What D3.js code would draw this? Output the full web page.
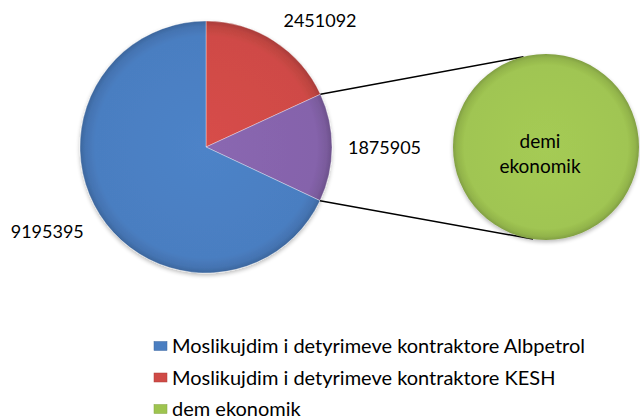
<!DOCTYPE html>
<html>
<head>
<meta charset="utf-8">
<script src="https://cdn.jsdelivr.net/npm/d3@7"></script>
<style>
  html, body { margin: 0; padding: 0; background: #fff; }
  svg { display: block; font-family: Lato, "Open Sans", sans-serif; }
</style>
</head>
<body>
<svg id="chart" width="640" height="419"></svg>
<script>
// ---- data ----
const categories = [
  "Moslikujdim i detyrimeve kontraktore Albpetrol",
  "Moslikujdim i detyrimeve kontraktore KESH",
  "dem ekonomik"
];
const values = [9195395, 2451092, 1875905];
const sliceOrder = [1, 2, 0];              // clockwise from 12 o'clock
const secondaryCategories = ["demi ekonomik"];
const secondaryValues = [1875905];
const secondaryLabelLines = ["demi", "ekonomik"];

// ---- styles ----
const mainColors = ["#4a7ec1", "#cf4a46", "#8563ab"];
const legendColors = ["#4a7ec1", "#cf4a46", "#9ec44f"];
const secondaryColor = "#a0c552";

const svg = d3.select("#chart");
const defs = svg.append("defs");

const filter = defs.append("filter").attr("id", "shadow")
  .attr("x", "-10%").attr("y", "-10%").attr("width", "120%").attr("height", "120%");
filter.append("feGaussianBlur").attr("in", "SourceAlpha").attr("stdDeviation", 2.2).attr("result", "b");
filter.append("feOffset").attr("in", "b").attr("dx", 0).attr("dy", 1.5).attr("result", "o");
filter.append("feComponentTransfer").attr("in", "o").attr("result", "s")
  .append("feFuncA").attr("type", "linear").attr("slope", 0.28);
const fm = filter.append("feMerge");
fm.append("feMergeNode").attr("in", "s");
fm.append("feMergeNode").attr("in", "SourceGraphic");

function addGrad(id, color, radius, bright) {
  const col = d3.color(color);
  const g = defs.append("radialGradient").attr("id", id)
    .attr("gradientUnits", "userSpaceOnUse").attr("cx", 0).attr("cy", 0).attr("r", radius);
  g.append("stop").attr("offset", "0%").attr("stop-color", col.brighter(bright));
  g.append("stop").attr("offset", "88%").attr("stop-color", col);
  g.append("stop").attr("offset", "96%").attr("stop-color", col.darker(0.25));
  g.append("stop").attr("offset", "100%").attr("stop-color", col.darker(0.6));
  return "url(#" + id + ")";
}

// ---- main pie ----
const cx = 206, cy = 147, r = 126;
const pie = d3.pie().sort(null).value(i => values[i]).startAngle(0).endAngle(2 * Math.PI);
const arcs = pie(sliceOrder);
const arc = d3.arc().innerRadius(0).outerRadius(r);

mainColors.forEach((c, i) => addGrad("mg" + i, c, r, 0.1));
const gMain = svg.append("g").attr("transform", `translate(${cx},${cy})`).attr("filter", "url(#shadow)");
gMain.selectAll("path.slice").data(arcs).join("path")
  .attr("class", "slice")
  .attr("d", arc)
  .attr("fill", d => `url(#mg${d.data})`)
  .attr("stroke", "rgba(255,255,255,0.35)")
  .attr("stroke-width", 1);

// data labels (outside end)
const labelR = r + 14;
arcs.forEach(d => {
  const a = (d.startAngle + d.endAngle) / 2;
  const s = Math.sin(a), c = Math.cos(a);
  const px = cx + labelR * s, py = cy - labelR * c;
  const anchor = s > 0.05 ? "start" : (s < -0.05 ? "end" : "middle");
  const x = px + (anchor === "start" ? 2 : anchor === "end" ? -4 : 0);
  let y, dy;
  if (c > 0.3) { y = py - 2; dy = "0"; }
  else if (c < -0.3) { y = py + 3; dy = "0.72em"; }
  else { y = py; dy = "0.35em"; }
  svg.append("text")
    .attr("x", x).attr("y", y).attr("dy", dy)
    .attr("text-anchor", anchor)
    .attr("font-size", 18).attr("fill", "#000")
    .text(d3.format("d")(values[d.data]));
});

// ---- secondary pie ----
const cx2 = 546, cy2 = 147, r2 = 93;
const pie2 = d3.pie().sort(null).value(v => v);
const arcs2 = pie2(secondaryValues);
const arc2 = d3.arc().innerRadius(0).outerRadius(r2);

// connector lines from the edges of the "dem ekonomik" slice to the secondary pie
const other = arcs.find(d => d.data === 2);
const pt = (x0, y0, rad, a) => [x0 + rad * Math.sin(a), y0 - rad * Math.cos(a)];
const deg = Math.PI / 180;
const connectors = [
  [pt(cx, cy, r, other.startAngle), pt(cx2, cy2, r2, -14 * deg)],
  [pt(cx, cy, r, other.endAngle), pt(cx2, cy2, r2, 188 * deg)]
];
svg.selectAll("line.conn").data(connectors).join("line")
  .attr("class", "conn")
  .attr("x1", d => d[0][0]).attr("y1", d => d[0][1])
  .attr("x2", d => d[1][0]).attr("y2", d => d[1][1])
  .attr("stroke", "#000").attr("stroke-width", 1.5);

addGrad("sg", secondaryColor, r2, 0.08);
const gSec = svg.append("g").attr("transform", `translate(${cx2},${cy2})`).attr("filter", "url(#shadow)");
gSec.selectAll("path").data(arcs2).join("path")
  .attr("d", arc2)
  .attr("fill", "url(#sg)");

const t2 = svg.append("text")
  .attr("x", cx2 - 6).attr("y", cy2 + 1)
  .attr("text-anchor", "middle")
  .attr("font-size", 19).attr("fill", "#000");
secondaryLabelLines.forEach((ln, i) => {
  t2.append("tspan").attr("x", cx2 - 6).attr("dy", i === 0 ? "0" : "1.32em").text(ln);
});

// ---- legend ----
const legendItems = categories.map((c, i) => ({ name: c, color: legendColors[i] }));
const ly = d3.scalePoint().domain(d3.range(legendItems.length)).range([346, 409]);
const lg = svg.append("g");
const items = lg.selectAll("g").data(legendItems).join("g")
  .attr("transform", (d, i) => `translate(154,${ly(i)})`);
items.append("rect")
  .attr("x", 0).attr("y", -4.5).attr("width", 13).attr("height", 9)
  .attr("fill", d => d.color)
  .attr("stroke", d => d3.color(d.color).darker(0.5)).attr("stroke-width", 0.5);
items.append("text")
  .attr("x", 18).attr("y", 0).attr("dy", "0.36em")
  .attr("font-size", 20).attr("fill", "#000")
  .text(d => d.name);
</script>
</body>
</html>
